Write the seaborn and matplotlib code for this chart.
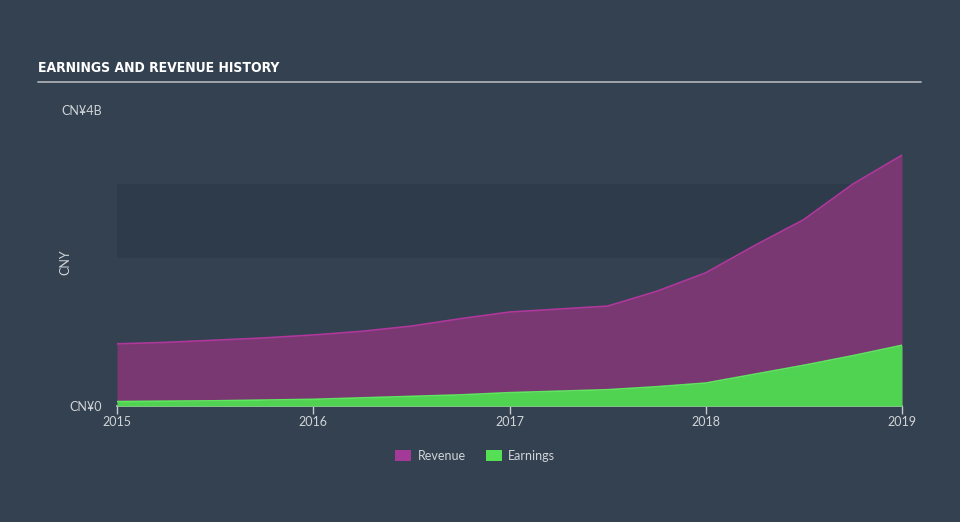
import numpy as np
import pandas as pd
import matplotlib
matplotlib.use("Agg")
import matplotlib.pyplot as plt
import seaborn as sns
from matplotlib.patches import Patch

# ---- data (CNY billions) ----
years = [2015.0, 2015.25, 2015.5, 2015.75, 2016.0, 2016.25, 2016.5, 2016.75,
         2017.0, 2017.25, 2017.5, 2017.75, 2018.0, 2018.25, 2018.5, 2018.75, 2019.0]
revenue = [0.84, 0.86, 0.89, 0.92, 0.96, 1.01, 1.08, 1.18,
           1.27, 1.31, 1.35, 1.55, 1.80, 2.17, 2.52, 3.00, 3.39]
earnings = [0.06, 0.065, 0.07, 0.08, 0.09, 0.11, 0.13, 0.15,
            0.18, 0.20, 0.22, 0.26, 0.31, 0.43, 0.55, 0.68, 0.82]
xticks = [2015, 2016, 2017, 2018, 2019]
ytick_vals = [0, 4]
ytick_labels = ["CN¥0", "CN¥4B"]
title = "EARNINGS AND REVENUE HISTORY"
series_names = ["Revenue", "Earnings"]

BG = "#344150"
BAND = "#2e3b4a"
REV_FILL = "#7a3873"
REV_LINE = "#b0379c"
EARN_FILL = "#4fd351"
EARN_LINE = "#5ee65f"
TXT = "#d0d4d8"

sns.set_theme(style="dark")
plt.rcParams["font.family"] = ["Lato", "DejaVu Sans"]

df = pd.DataFrame({"year": years, "Revenue": revenue, "Earnings": earnings})

fig = plt.figure(figsize=(9.6, 5.22), dpi=100, facecolor=BG)
ax = fig.add_axes([117/960, 1-406/522, 785/960, (406-110)/522])
ax.set_facecolor(BG)

ax.axhspan(2, 3, color=BAND, zorder=0, lw=0)

ax.fill_between(df["year"], 0, df["Revenue"], color=REV_FILL, lw=0, zorder=1)
sns.lineplot(data=df, x="year", y="Revenue", ax=ax, color=REV_LINE, lw=1.2, zorder=2)
ax.fill_between(df["year"], 0, df["Earnings"], color=EARN_FILL, lw=0, zorder=3)
sns.lineplot(data=df, x="year", y="Earnings", ax=ax, color=EARN_LINE, lw=1.2, zorder=4)

ax.set_xlim(2015, 2019.0)
ax.set_ylim(0, 4)
ax.set_xticks(xticks)
ax.set_xticklabels([str(y) for y in xticks], color=TXT, fontsize=9)
ax.set_yticks(ytick_vals)
ax.set_yticklabels(ytick_labels, color=TXT, fontsize=9)
ax.tick_params(axis="x", length=6, width=1, color="#c8ccd0", pad=1, bottom=True)
ax.tick_params(axis="y", length=0, pad=11)
ax.set_xlabel("")
ax.set_ylabel("CNY", color=TXT, fontsize=9)
ax.yaxis.set_label_coords((71-117)/785, (406-262)/296)
for s in ["top", "right", "left"]:
    ax.spines[s].set_visible(False)
ax.spines["bottom"].set_color("#c8ccd0")
ax.spines["bottom"].set_linewidth(1.2)
ax.grid(False)

fig.text(38/960, 1-68/522, title, color="white", fontsize=10, fontweight="bold",
         fontstretch="condensed", va="center", ha="left",
         family=["DejaVu Sans"])
fig.add_artist(plt.Line2D([38/960, 921/960], [1-82/522, 1-82/522], color="#a9adb2", lw=1.3))

handles = [Patch(facecolor="#a33a98", edgecolor="none", label=series_names[0]),
           Patch(facecolor="#55df55", edgecolor="none", label=series_names[1])]
leg = fig.legend(handles=handles, loc="center", bbox_to_anchor=(475/960, 1-456/522), ncol=2,
                 frameon=False, fontsize=9, handlelength=1.3, handleheight=1.0,
                 columnspacing=1.6, handletextpad=0.5)
for t in leg.get_texts():
    t.set_color(TXT)

fig.savefig("out.png", dpi=100, facecolor=BG)
